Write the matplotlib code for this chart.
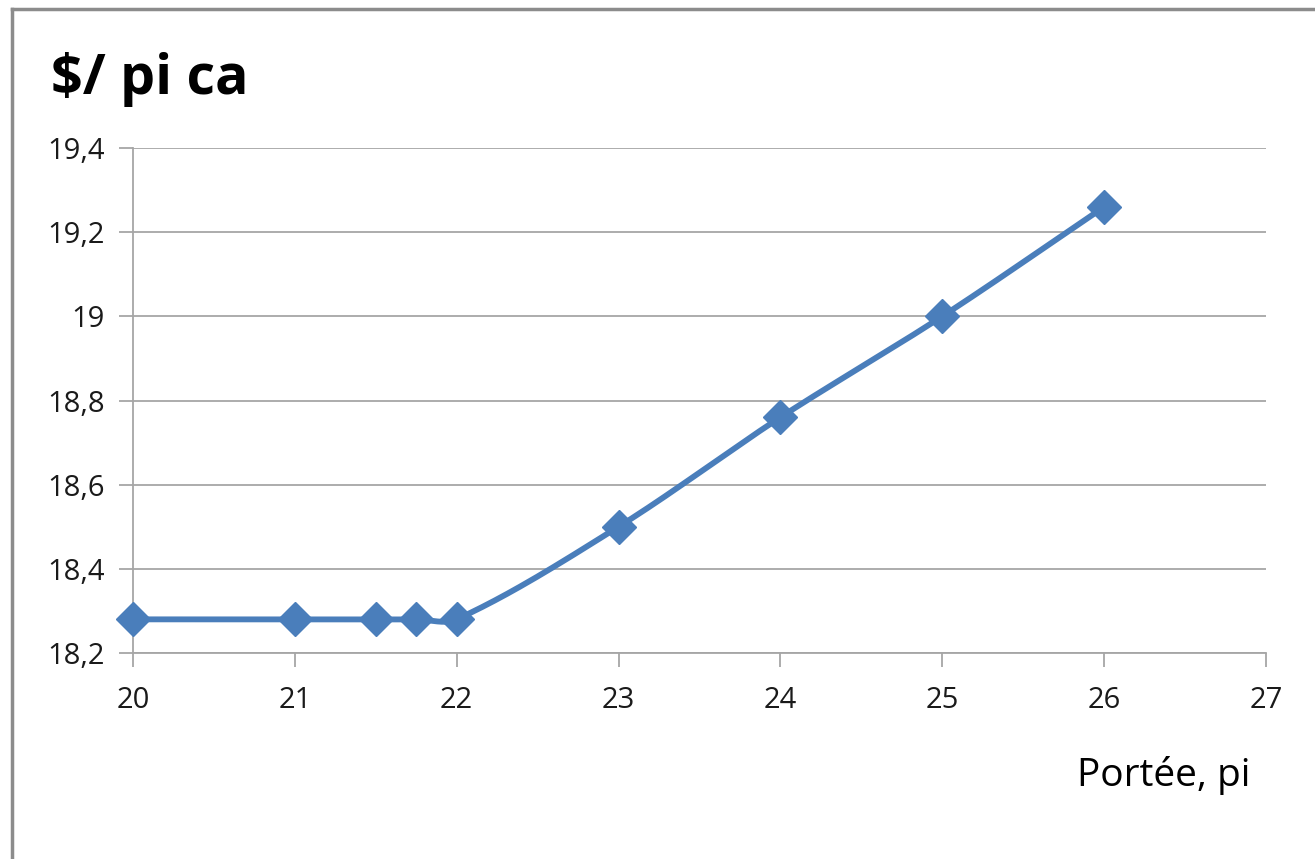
import numpy as np
import matplotlib.pyplot as plt
from matplotlib.lines import Line2D

# Portée (pi) et coût ($/pi ca)
portee = [20, 21, 21.5, 21.75, 22, 23, 24, 25, 26]
cout = [18.28, 18.28, 18.28, 18.28, 18.28, 18.5, 18.76, 19.0, 19.26]

yticks = [18.2, 18.4, 18.6, 18.8, 19.0, 19.2, 19.4]
ytick_labels = ['18,2', '18,4', '18,6', '18,8', '19', '19,2', '19,4']
xticks = [20, 21, 22, 23, 24, 25, 26, 27]


def lissage(ax, x, y, n=40):
    # courbe lissée (Bézier), calculée en pixels pour garder les proportions
    p = ax.transData.transform(np.column_stack([x, y]))
    d = np.linalg.norm(np.diff(p, axis=0), axis=1)
    tang = []
    for i in range(len(p)):
        a = p[i - 1] if i > 0 else p[i]
        b = p[i + 1] if i + 1 < len(p) else p[i]
        da = d[i - 1] if i > 0 else 0
        db = d[i] if i < len(d) else 0
        tang.append((b - a) / (da + db))
    pts = [p[0]]
    t = np.linspace(0, 1, n)[1:, None]
    for i in range(len(p) - 1):
        c1 = p[i] + tang[i] * d[i] / 3
        c2 = p[i + 1] - tang[i + 1] * d[i] / 3
        seg = ((1 - t) ** 3 * p[i] + 3 * (1 - t) ** 2 * t * c1
               + 3 * (1 - t) * t ** 2 * c2 + t ** 3 * p[i + 1])
        pts.extend(seg)
    pts = ax.transData.inverted().transform(np.array(pts))
    return pts[:, 0], pts[:, 1]


plt.rcParams['font.family'] = ['Open Sans', 'DejaVu Sans']

fig = plt.figure(figsize=(13.15, 8.59), dpi=100)
ax = fig.add_axes([0.1011, 0.2398, 0.8616, 0.5879])

gris = '#a6a6a6'
bleu = '#4a7ebb'

ax.set_xlim(20, 27)
ax.set_ylim(18.2, 19.4)

xs, ys = lissage(ax, portee, cout)
ax.plot(xs, ys, color=bleu, linewidth=4.2, solid_capstyle='round', zorder=3)
ax.plot(portee, cout, linestyle='none', marker='D', markersize=17,
        color=bleu, zorder=4, clip_on=False)

ax.set_xticks(xticks)
ax.set_yticks(yticks)
ax.set_yticklabels(ytick_labels)
ax.grid(axis='y', color=gris, linewidth=1.3)
ax.set_axisbelow(True)
for s in ['top', 'right']:
    ax.spines[s].set_visible(False)
for s in ['left', 'bottom']:
    ax.spines[s].set_color(gris)
    ax.spines[s].set_linewidth(1.3)
ax.tick_params(axis='both', direction='out', length=10, width=1.3,
               color=gris, labelsize=21, labelcolor='#1a1a1a')
ax.tick_params(axis='x', pad=14)
ax.tick_params(axis='y', pad=10)

fig.text(0.039, 0.907, '$/ pi ca', fontsize=40, fontweight='bold',
         ha='left', va='center')
fig.text(0.951, 0.097, 'Portée, pi', fontsize=28, ha='right', va='center')

# cadre du graphique
fig.add_artist(Line2D([0.0095, 0.0095], [0, 0.99], transform=fig.transFigure,
                      color='#8c8c8c', linewidth=2.5))
fig.add_artist(Line2D([0.0095, 1.0], [0.99, 0.99], transform=fig.transFigure,
                      color='#8c8c8c', linewidth=2.5))

fig.savefig('out.png', dpi=100)
